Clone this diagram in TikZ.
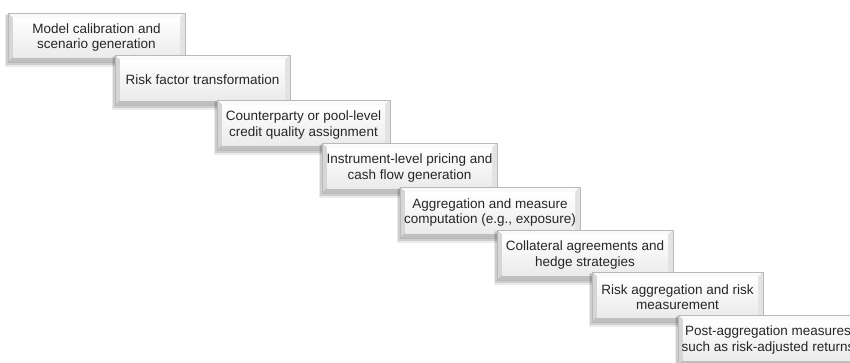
\documentclass[tikz,border=0pt]{standalone}
\usepackage{fontspec}
\setmainfont{Liberation Sans}
\tikzset{
  boxtext/.style={align=center, font=\fontsize{13.5}{15.5}\selectfont, text=black!85, inner sep=0pt}
}
\newcommand\bevbox[6]{%
  \fill[black,opacity=0.08] (#2-3,#3+2) rectangle (#4+1,#5+5);
  \fill[black,opacity=0.12] (#2-2,#3+1) rectangle (#4,#5+3);
  \fill[gray!55] (#2,#3) rectangle (#4,#5);
  \fill[white!96!gray] (#2,#3) -- (#4,#3) -- (#4-5,#3+5) -- (#2+5,#3+5) -- cycle;
  \fill[gray!32] (#2,#3) -- (#2+5,#3+5) -- (#2+5,#5-5) -- (#2,#5) -- cycle;
  \fill[gray!22] (#4,#3) -- (#4,#5) -- (#4-5,#5-5) -- (#4-5,#3+5) -- cycle;
  \fill[gray!50] (#2,#5) -- (#4,#5) -- (#4-5,#5-5) -- (#2+5,#5-5) -- cycle;
  \shade[top color=white, bottom color=gray!16] (#2+5,#3+5) rectangle (#4-5,#5-5);
  \draw[gray!55, line width=0.6pt] (#2,#3) rectangle (#4,#5);
  \node[boxtext] (#1) at ({(#2+#4)/2},{(#3+#5)/2}) {#6};
}
\begin{document}
\begin{tikzpicture}[x=1pt,y=-1pt]
\useasboundingbox (0,0) rectangle (850,362);
\bevbox{b1}{8}{13}{185}{62}{Model calibration and\\scenario generation}
\bevbox{b2}{115}{55}{290}{105}{Risk factor transformation}
\bevbox{b3}{217}{100}{390}{150}{Counterparty or pool-level\\credit quality assignment}
\bevbox{b4}{322}{143}{497}{193}{Instrument-level pricing and\\cash flow generation}
\bevbox{b5}{400}{187}{580}{238}{Aggregation and measure\\computation (e.g., exposure)}
\bevbox{b6}{497}{230}{673}{280}{Collateral agreements and\\hedge strategies}
\bevbox{b7}{592}{272}{763}{322}{Risk aggregation and risk\\measurement}
\bevbox{b8}{678}{315}{858}{365}{Post-aggregation measures\\such as risk-adjusted returns}
\end{tikzpicture}
\end{document}
